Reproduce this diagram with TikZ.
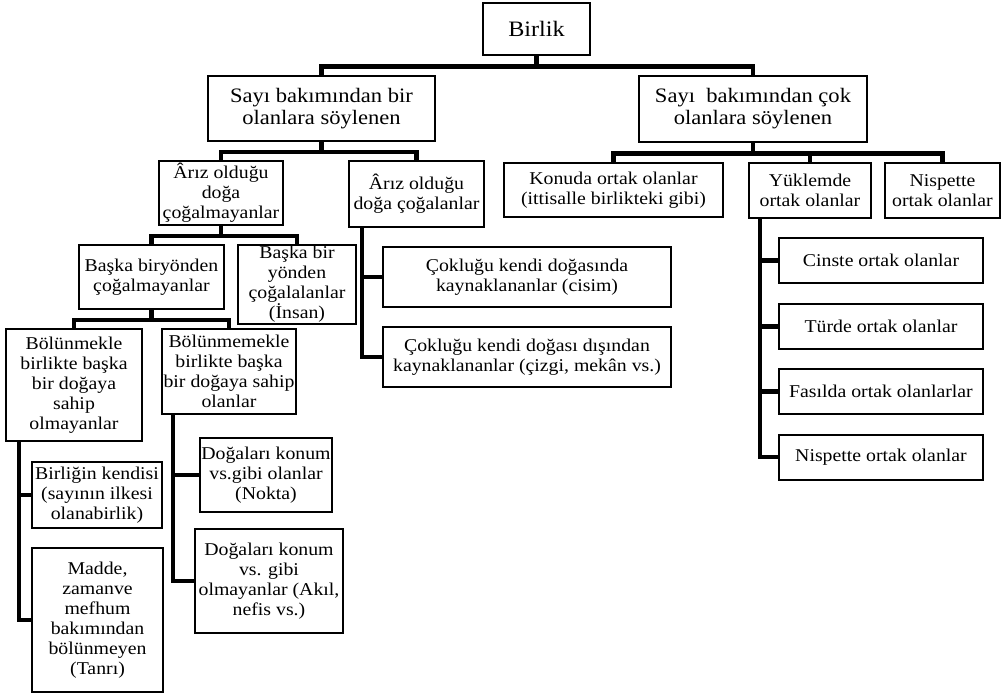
\documentclass[tikz,border=0pt]{standalone}
\usepackage{fontspec}
\setmainfont[FakeStretch=1.1]{Liberation Serif}

\begin{document}
\begin{tikzpicture}[x=1pt,y=-1pt,
	box/.style={draw,line width=2pt,fill=white,align=center,inner sep=0pt,font=\fontsize{18}{20}\selectfont},
	big/.style={font=\fontsize{20.5}{22}\selectfont},
	sz/.style 2 args={minimum width=#1,minimum height=#2},
	conn/.style={line width=4.4pt}]
	\useasboundingbox (0,0) rectangle (1003,694);

	\node[box,sz={107}{52},font=\fontsize{22}{24}\selectfont] (birlik) at (536.5,29) {Birlik};
	\node[box,big,sz={227}{65}] (bir) at (321.5,108.5) {Sayı bakımından bir\\olanlara söylenen};
	\node[box,big,sz={228}{66}] (cok) at (753,109) {Sayı\ \ bakımından çok\\olanlara söylenen};

	\node[box,sz={124}{64}] (arizA) at (221,193) {Ârız olduğu\\doğa\\çoğalmayanlar};
	\node[box,sz={135}{66}] (arizB) at (416.5,194) {Ârız olduğu\\doğa çoğalanlar};
	\node[box,sz={145}{64}] (baskaA) at (151.5,277) {Başka biryönden\\çoğalmayanlar};
	\node[box,sz={118}{79}] (baskaB) at (297,284.5) {Başka bir\\yönden\\çoğalalanlar\\(İnsan)};
	\node[box,sz={136}{112}] (bolA) at (74,385) {Bölünmekle\\birlikte başka\\bir doğaya\\sahip\\olmayanlar};
	\node[box,sz={134}{85}] (bolB) at (229,371.5) {Bölünmemekle\\birlikte başka\\bir doğaya sahip\\olanlar};
	\node[box,sz={130}{66}] (birlig) at (97,495) {Birliğin kendisi\\(sayının ilkesi\\olanabirlik)};
	\node[box,sz={131}{144}] (madde) at (97.5,620) {Madde,\\zamanve\\mefhum\\bakımından\\bölünmeyen\\(Tanrı)};
	\node[box,sz={132}{74}] (dogA) at (266,475) {Doğaları konum\\vs.gibi olanlar\\(Nokta)};
	\node[box,sz={148}{104}] (dogB) at (269,581) {Doğaları konum\\vs. gibi\\olmayanlar (Akıl,\\nefis vs.)};
	\node[box,sz={288}{60}] (cokA) at (527,277) {Çokluğu kendi doğasında\\kaynaklananlar (cisim)};
	\node[box,sz={288}{60}] (cokB) at (527,357) {Çokluğu kendi doğası dışından\\kaynaklananlar (çizgi, mekân vs.)};

	\node[box,sz={219}{54}] (konu) at (613.5,190) {Konuda ortak olanlar\\(ittisalle birlikteki gibi)};
	\node[box,sz={122}{55}] (yuk) at (810,190.5) {Yüklemde\\ortak olanlar};
	\node[box,sz={115}{55}] (nisp) at (942.5,190.5) {Nispette\\ortak olanlar};
	\node[box,sz={204}{45}] (cins) at (881,260.5) {Cinste ortak olanlar};
	\node[box,sz={204}{45}] (turde) at (881,326.5) {Türde ortak olanlar};
	\node[box,sz={204}{45}] (fasil) at (881,391.5) {Fasılda ortak olanlarlar};
	\node[box,sz={204}{45}] (nisp2) at (881,457) {Nispette ortak olanlar};

	% ust seviye
	\draw[conn] (birlik.south) -- ++(0,10.5) -| (bir.north);
	\draw[conn] (birlik.south) -- ++(0,10.5) -| (cok.north);
	% sol dal
	\foreach \c in {arizA,arizB} \draw[conn] (bir.south) -- ++(0,10) -| (\c.north);
	\foreach \c in {baskaA,baskaB} \draw[conn] (arizA.south) -- ++(0,10) -| (\c.north);
	\foreach \c in {bolA,bolB} \draw[conn] (baskaA.south) -- ++(0,10) -| (\c.north);
	\foreach \c in {birlig,madde} \draw[conn] ([xshift=14pt]bolA.south west) |- (\c.west);
	\foreach \c in {dogA,dogB} \draw[conn] ([xshift=12pt]bolB.south west) |- (\c.west);
	\foreach \c in {cokA,cokB} \draw[conn] ([xshift=14pt]arizB.south west) |- (\c.west);
	% sag dal
	\foreach \c in {konu,yuk,nisp} \draw[conn] (cok.south) -- ++(0,10.5) -| (\c.north);
	\foreach \c in {cins,turde,fasil,nisp2} \draw[conn] ([xshift=12pt]yuk.south west) |- (\c.west);
\end{tikzpicture}
\end{document}
